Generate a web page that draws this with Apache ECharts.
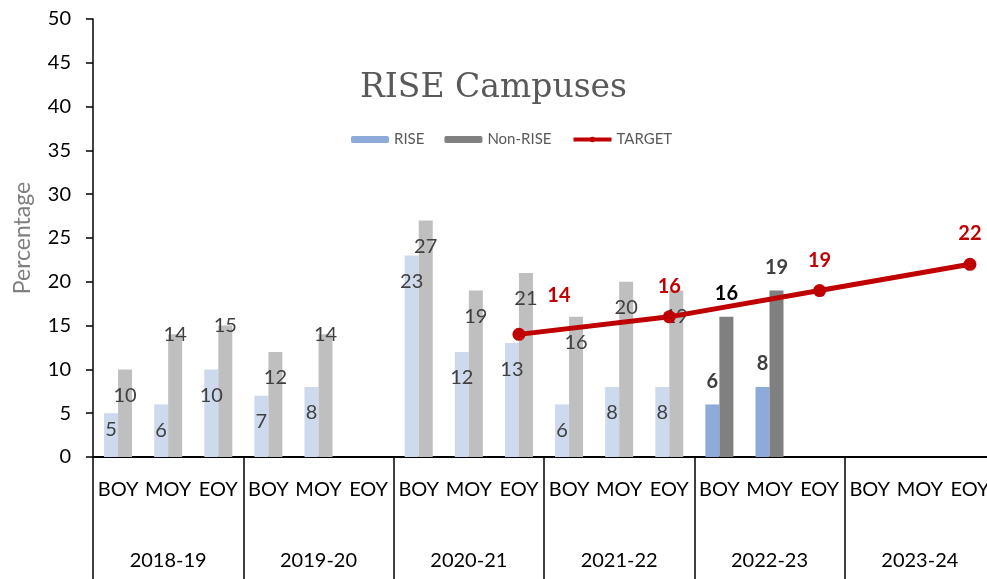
<!DOCTYPE html>
<html>
<head>
<meta charset="utf-8">
<script src="https://cdn.jsdelivr.net/npm/echarts@6/dist/echarts.min.js"></script>
<style>
  html, body { margin: 0; padding: 0; background: #fff; }
  #chartmain { width: 987px; height: 579px; }
</style>
</head>
<body>
<div id="chartmain"></div>
<script>
// data
var years = ['2018-19', '2019-20', '2020-21', '2021-22', '2022-23', '2023-24'];
var terms = ['BOY', 'MOY', 'EOY'];
var riseValues    = [5, 6, 10,   7, 8, null,   23, 12, 13,   6, 8, 8,    6, 8, null,   null, null, null];
var nonRiseValues = [10, 14, 15, 12, 14, null, 27, 19, 21,   16, 20, 19, 16, 19, null, null, null, null];
var targetValues  = [null, null, null, null, null, null, null, null, 14, null, null, 16, null, null, 19, null, null, 22];
var currentYear = '2022-23';

var categories = [];
years.forEach(function (y) {
    terms.forEach(function (t) { categories.push(y + ' ' + t); });
});

var font = 'Lato';

function isCurrent(i) {
    return categories[i].indexOf(currentYear) === 0;
}

// labels that sit on the bar top instead of inside it
var labelOnTop = { 1: true, 2: true, 4: true };

function barData(values, lightColor, isNonRise) {
    return values.map(function (v, i) {
        if (v == null) return null;
        var item = { value: v };
        if (isCurrent(i)) {
            item.label = {
                position: 'top', distance: 13, fontWeight: 'bold', fontSize: 20,
                color: (isNonRise && i === 12) ? '#000' : '#404040'
            };
        } else {
            item.itemStyle = { color: lightColor };
            if (isNonRise && labelOnTop[i]) {
                item.label = { distance: -10 };
            }
            if (!isNonRise && i === 0) {
                item.label = { distance: 6 };
            }
        }
        return item;
    });
}

var chart = echarts.init(document.getElementById('chartmain'));

chart.setOption({
    animation: false,
    title: {
        text: 'RISE Campuses',
        left: 'center',
        top: 67,
        textStyle: { fontFamily: 'DejaVu Serif', fontSize: 33, fontWeight: 'normal', color: '#595959' }
    },
    legend: {
        left: 346,
        top: 127,
        itemWidth: 38,
        itemHeight: 7,
        itemGap: 20,
        textStyle: { fontFamily: font, fontSize: 15, color: '#595959' },
        data: ['RISE', 'Non-RISE', {
            name: 'TARGET',
            lineStyle: { width: 4 }
        }]
    },
    grid: {
        left: 93, right: -8, top: 19, bottom: 122,
        containLabel: false,
        outerBoundsMode: 'none'
    },
    xAxis: [{
        type: 'category',
        data: categories,
        position: 'bottom',
        axisLine: { lineStyle: { color: '#000', width: 2 } },
        axisTick: { show: false },
        axisLabel: {
            interval: 0,
            margin: 23,
            fontFamily: font, fontSize: 20, color: '#000',
            formatter: function (v) { return v.split(' ')[1]; }
        }
    }, {
        type: 'category',
        data: years,
        position: 'bottom',
        axisLine: { show: false },
        axisTick: { show: true, length: 125, lineStyle: { color: '#000', width: 1.5 } },
        axisLabel: { interval: 0, margin: 94, fontFamily: font, fontSize: 20, color: '#000' }
    }],
    yAxis: {
        type: 'value',
        min: 0, max: 50, interval: 5,
        name: 'Percentage',
        nameLocation: 'middle',
        nameGap: 59,
        nameTextStyle: { fontFamily: font, fontSize: 23, color: '#7f7f7f' },
        splitLine: { show: false },
        axisLine: { show: true, lineStyle: { color: '#000', width: 1.5 } },
        axisTick: { show: true, length: 7, lineStyle: { color: '#000', width: 1.5 } },
        axisLabel: { margin: 22, fontFamily: font, fontSize: 20, color: '#000' }
    },
    series: [{
        name: 'RISE',
        type: 'bar',
        xAxisIndex: 0,
        barWidth: 14,
        barGap: '0%',
        itemStyle: { color: '#8eaadb' },
        label: {
            show: true, position: 'insideTop', distance: 16,
            fontFamily: font, fontSize: 20, color: '#404040'
        },
        data: barData(riseValues, '#cddaee', false)
    }, {
        name: 'Non-RISE',
        type: 'bar',
        xAxisIndex: 0,
        barWidth: 14,
        barGap: '0%',
        itemStyle: { color: '#808080' },
        label: {
            show: true, position: 'insideTop', distance: 16,
            fontFamily: font, fontSize: 20, color: '#404040'
        },
        data: barData(nonRiseValues, '#bfbfbf', true)
    }, {
        name: 'TARGET',
        type: 'line',
        xAxisIndex: 0,
        connectNulls: true,
        symbol: 'circle',
        symbolSize: 13,
        z: 5,
        itemStyle: { color: '#c00000' },
        lineStyle: { color: '#c00000', width: 5 },
        label: {
            show: true, position: 'top', distance: 14,
            fontFamily: font, fontSize: 20, fontWeight: 'bold', color: '#c00000'
        },
        data: targetValues.map(function (v, i) {
            if (v == null) return null;
            if (i === 8) return { value: v, label: { offset: [40, -8] } };
            return v;
        })
    }]
});
</script>
</body>
</html>
